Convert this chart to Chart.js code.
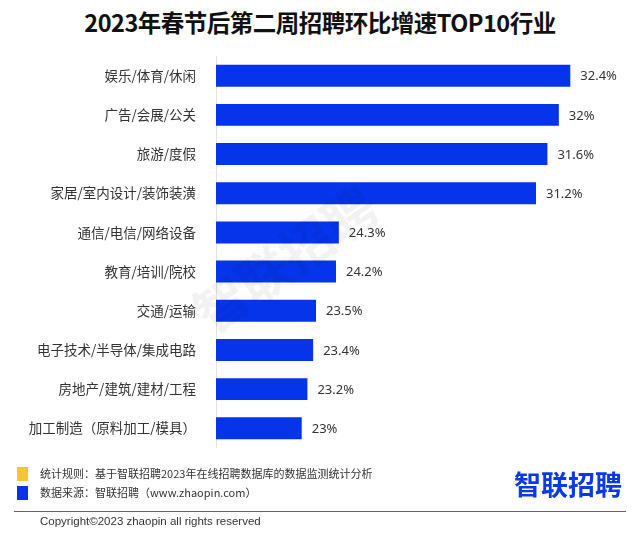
<!DOCTYPE html>
<html>
<head>
<meta charset="utf-8">
<script src="https://cdn.jsdelivr.net/npm/chart.js@4/dist/chart.umd.min.js"></script>
<style>
  html, body { margin: 0; padding: 0; background: #fff; }
  #wrap { position: relative; width: 640px; height: 537px; overflow: hidden; font-family: "Noto Sans CJK SC", "Noto Sans", sans-serif; }
  #title { position: absolute; top: 5px; left: 0; width: 640px; text-align: center; font-size: 23.5px; font-weight: bold; color: #111; letter-spacing: -0.5px; }
  #chartBox { position: absolute; top: 36px; left: 0; width: 640px; height: 432px; }
  .note { position: absolute; left: 40px; font-size: 11px; color: #333; }
  .sq { position: absolute; left: 17px; width: 11px; height: 14px; }
  #rule { position: absolute; left: 14px; width: 612px; top: 511px; height: 0; border-top: 1.5px solid #666; }
  #copy { position: absolute; left: 40px; top: 515px; font-size: 11.5px; color: #333; font-family: "Liberation Sans", Arial, sans-serif; }
  #logo { position: absolute; left: 514px; top: 464px; font-size: 27px; font-weight: bold; color: #0a3ae6; }
  #wm { position: absolute; left: 180px; top: 220px; font-size: 52px; font-weight: bold; color: rgba(0,0,0,0.05); transform: rotate(-35deg); pointer-events: none; }
</style>
</head>
<body>
<div id="wrap">
  <div id="title">2023年春节后第二周招聘环比增速TOP10行业</div>
  <div id="chartBox"><canvas id="chart"></canvas></div>
  <div id="wm">智联招聘</div>
  <div class="sq" style="top:467px;background:#f7c531;"></div>
  <div class="note" style="top:465px;">统计规则：基于智联招聘2023年在线招聘数据库的数据监测统计分析</div>
  <div class="sq" style="top:486px;background:#0a32e8;"></div>
  <div class="note" style="top:484px;">数据来源：智联招聘（www.zhaopin.com）</div>
  <div id="logo">智联招聘</div>
  <div id="rule"></div>
  <div id="copy">Copyright©2023 zhaopin all rights reserved</div>
</div>
<script>
const industries = [
  '娱乐/体育/休闲', '广告/会展/公关', '旅游/度假', '家居/室内设计/装饰装潢',
  '通信/电信/网络设备', '教育/培训/院校', '交通/运输', '电子技术/半导体/集成电路',
  '房地产/建筑/建材/工程', '加工制造（原料加工/模具）'
];
const growth = [32.4, 32, 31.6, 31.2, 24.3, 24.2, 23.5, 23.4, 23.2, 23];

// value labels right of each bar
const valueLabels = {
  id: 'valueLabels',
  afterDatasetsDraw(chart) {
    const { ctx } = chart;
    const meta = chart.getDatasetMeta(0);
    ctx.save();
    ctx.font = '13px "Noto Sans", "Noto Sans CJK SC", sans-serif';
    ctx.fillStyle = '#333';
    ctx.textAlign = 'left';
    ctx.textBaseline = 'middle';
    meta.data.forEach((bar, i) => {
      ctx.fillText(growth[i] + '%', bar.x + 10, bar.y + 1);
    });
    ctx.restore();
  }
};

new Chart(document.getElementById('chart'), {
  type: 'bar',
  data: {
    labels: industries,
    datasets: [{
      data: growth,
      backgroundColor: '#0534ea',
      categoryPercentage: 1,
      barPercentage: 0.56,
      base: 20
    }]
  },
  options: {
    indexAxis: 'y',
    responsive: true,
    maintainAspectRatio: false,
    animation: false,
    layout: { padding: { top: 8, bottom: 8, right: 24, left: 0 } },
    plugins: {
      legend: { display: false },
      tooltip: { enabled: false }
    },
    scales: {
      x: { display: false, min: 20, max: 34 },
      y: {
        grid: { display: false },
        border: { display: true, color: '#e2e2e2' },
        ticks: {
          color: '#333',
          padding: 12,
          font: { size: 13.5, family: '"Noto Sans CJK SC", sans-serif' }
        },
        afterFit(scale) { scale.width = 216; }
      }
    }
  },
  plugins: [valueLabels]
});
</script>
</body>
</html>
